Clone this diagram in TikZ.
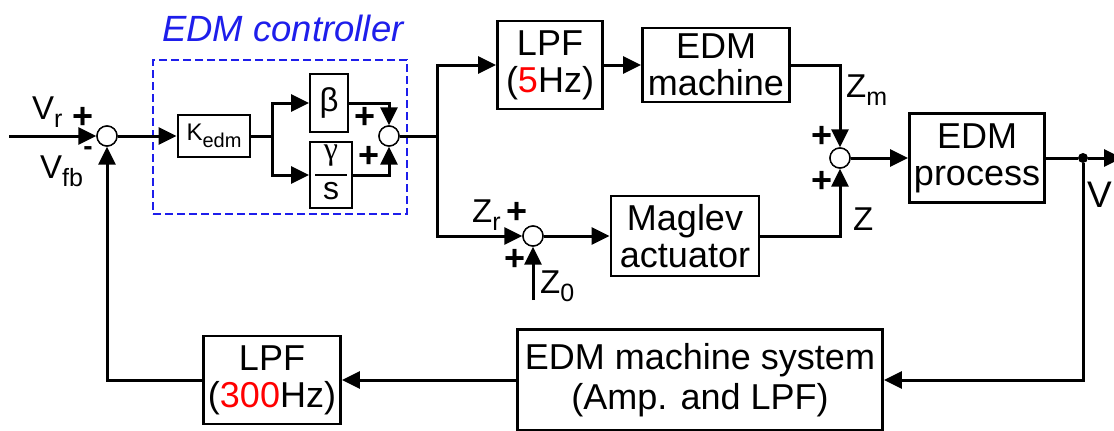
\documentclass[tikz,border=0pt]{standalone}
\usepackage{fontspec}
\setmainfont{Liberation Sans}
\newfontfamily\greekserif{Liberation Serif}
\usetikzlibrary{arrows.meta,calc}
\definecolor{ctrlblue}{RGB}{30,30,235}
\definecolor{hzred}{RGB}{255,0,0}
\newcommand{\fs}[2]{\fontsize{#1}{#2}\selectfont}
\newcommand{\sbs}[1]{\raisebox{-8pt}{\fs{25}{25}#1}}
\tikzset{
  blk/.style={draw, line width=2.8pt, inner sep=0pt, align=center, font=\fs{36}{37}},
  blkthin/.style={draw, line width=2pt, inner sep=0pt, align=center},
  sumc/.style={circle, draw, fill=white, line width=1.4pt, minimum size=20pt, inner sep=0pt},
  ln/.style={line width=3pt},
  conn/.style={line width=3pt, -{Triangle[length=18pt,width=17pt]}},
  pl/.style={inner sep=0pt, font=\fs{36}{36}\bfseries},
  lbl/.style={inner sep=0pt, anchor=base west, font=\fs{33}{33}},
}
\begin{document}
\begin{tikzpicture}[x=1pt,y=-1pt]
\useasboundingbox[fill=white] (0,0) rectangle (1114,431);
% controller frame
\node[draw=ctrlblue, line width=2.4pt, dash pattern=on 8pt off 4pt, minimum width=254pt, minimum height=154pt, inner sep=0pt] (ctrl) at (280,137) {};
\node[inner sep=0pt, anchor=base west, text=ctrlblue, font=\fs{36.5}{36}\itshape] (ctrltitle) at (162,41) {EDM controller};
% sums
\node[sumc] (sum1) at (107,136) {};
\node[sumc] (sum2) at (389,136) {};
\node[sumc] (sum3) at (840,158) {};
\node[sumc] (sum4) at (533,236) {};
% blocks
\node[blk, minimum width=72pt, minimum height=42pt] (kedm) at (214,136) {{\fs{24}{24}K}\raisebox{-7pt}{\fs{20}{20}edm}};
\node[blkthin, minimum width=38pt, minimum height=58pt, font=\fs{33}{33}] (beta) at (329,103) {β};
\node[blkthin, minimum width=42pt, minimum height=66pt] (gam) at (331,175) {};
\node[inner sep=0pt, font=\greekserif\fs{32}{32}] (gamn) at (331,156) {γ};
\node[inner sep=0pt, font=\fs{32}{32}] (gamd) at (331,191) {s};
\draw[line width=1.6pt] ($(gam.center)+(-16,0)$) -- ($(gam.center)+(16,0)$);
\node[blk, minimum width=105pt, minimum height=88pt] (lpf5) at (550,65) {LPF\\(\textcolor{hzred}{5}Hz)};
\node[blk, minimum width=147pt, minimum height=74pt] (edmm) at (716,65) {EDM\\machine};
\node[blk, minimum width=135pt, minimum height=89pt] (proc) at (977,158) {EDM\\process};
\node[blk, minimum width=148pt, minimum height=80pt] (mag) at (685,236) {Maglev\\actuator};
\node[blk, minimum width=365pt, minimum height=101pt, font=\fs{36}{40}] (sys) at (700,380) {EDM machine system\\(Amp. and LPF)};
\node[blk, minimum width=137pt, minimum height=88pt] (lpf300) at (272,380) {LPF\\(\textcolor{hzred}{300}Hz)};
\node[circle, fill=black, minimum size=10pt, inner sep=0pt] (dot) at (1083,158) {};
% coordinates
\coordinate (in) at (9,136);
\coordinate (split) at (272,136);
\coordinate (br) at (437,136);
\coordinate (z0) at (533,300);
\coordinate (out) at (1122,158);
% connectors
\draw[conn] (in) -- (sum1);
\draw[conn] (sum1) -- (kedm);
\draw[ln] (kedm) -- (split);
\draw[conn] (split) |- (beta);
\draw[conn] (split) |- (gam);
\draw[conn] (beta) -| (sum2);
\draw[conn] (gam) -| (sum2);
\draw[ln] (sum2) -- (br);
\draw[conn] (br) |- (lpf5);
\draw[conn] (lpf5) -- (edmm);
\draw[conn] (edmm) -| (sum3);
\draw[conn] (br) |- (sum4);
\draw[conn] (z0) -- (sum4);
\draw[conn] (sum4) -- (mag);
\draw[conn] (mag) -| (sum3);
\draw[conn] (sum3) -- (proc);
\draw[ln] (proc) -- (dot);
\draw[conn] (dot) -- (out);
\draw[conn] (dot) |- (sys);
\draw[conn] (sys) -- (lpf300);
\draw[conn] (lpf300) -| (sum1);
% redraw sums on top
\node[sumc] at (sum1) {};
\node[sumc] at (sum2) {};
\node[sumc] at (sum3) {};
\node[sumc] at (sum4) {};
% labels
\node[lbl] (vr) at (32,119) {V\sbs{r}};
\node[pl] (vrplus) at (83,118) {+};
\node[lbl] (vfb) at (40,178) {V\sbs{fb}};
\node[inner sep=0pt, anchor=base, font=\fs{28}{28}\bfseries] (vfbminus) at (88,155) {-};
\node[pl] (s2top) at (365,118) {+};
\node[pl] (s2bot) at (369,157) {+};
\node[lbl] (zm) at (846,97) {Z\sbs{m}};
\node[pl] (s3top) at (822,137) {+};
\node[pl] (s3bot) at (822,182) {+};
\node[lbl] (zlab) at (853,230) {Z};
\node[lbl] (zr) at (472,222) {Z\sbs{r}};
\node[pl] (s4left) at (517,213) {+};
\node[pl] (s4bot) at (515,260) {+};
\node[lbl] (zzero) at (540,293) {Z\sbs{0}};
\node[lbl, font=\fs{37}{37}] (vout) at (1087,207) {V};
\end{tikzpicture}
\end{document}
